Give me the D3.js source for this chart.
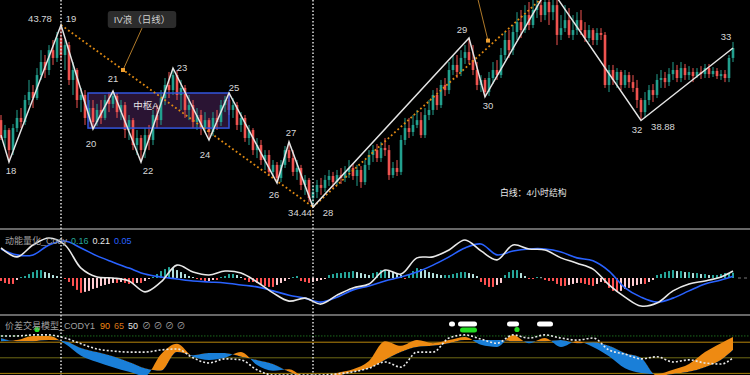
<!DOCTYPE html>
<html>
<head>
<meta charset="utf-8">
<script src="https://cdn.jsdelivr.net/npm/d3@7"></script>
<style>
  body { margin: 0; background: #000; }
  svg { display: block; font-family: "Liberation Sans", "Noto Sans CJK SC", sans-serif; }
</style>
</head>
<body>
<svg id="chart" width="750" height="375"></svg>
<script>
// candles: [open, high, low, close]
const ohlc = [
[38.90,39.16,37.88,37.98],[37.98,38.65,37.47,38.39],[38.39,38.49,36.75,37.36],[37.36,38.70,37.11,38.49],
[38.49,39.42,38.29,39.01],[39.01,39.52,38.49,38.80],[38.80,40.19,38.65,39.93],[39.93,40.96,39.67,40.34],
[40.34,40.70,39.52,40.03],[40.03,41.57,39.93,41.21],[41.21,42.49,40.96,41.88],[41.88,42.24,41.06,41.47],
[41.47,42.75,41.21,42.49],[42.49,43.01,41.73,42.09],[42.09,43.42,41.88,43.11],[43.11,43.78,41.98,42.24],
[42.24,43.01,41.47,42.75],[42.75,42.91,40.70,40.96],[40.96,41.88,40.19,41.47],[41.47,41.57,39.52,39.93],
[39.93,40.55,39.31,40.19],[40.19,40.44,38.65,39.01],[39.01,39.93,38.80,39.52],[39.52,39.93,38.44,38.80],
[38.80,39.73,38.60,39.42],[39.42,39.93,38.70,39.01],[39.01,40.19,38.90,39.93],[39.93,40.34,39.31,39.73],
[39.73,40.39,39.52,40.14],[40.14,40.29,39.01,39.31],[39.31,39.93,38.90,39.67],[39.67,39.83,37.98,38.39],
[38.39,39.16,37.88,38.90],[38.90,39.01,37.36,37.62],[37.62,38.39,37.11,37.98],[37.98,38.13,36.75,37.36],
[37.36,38.49,36.95,38.13],[38.13,38.65,37.36,37.88],[37.88,39.42,37.62,39.16],[39.16,39.67,38.49,38.90],
[38.90,40.44,38.65,40.03],[40.03,41.06,39.67,40.70],[40.70,41.37,40.03,40.44],[40.44,41.57,40.19,41.21],
[41.21,41.47,39.93,40.19],[40.19,40.96,39.42,40.55],[40.55,40.70,39.01,39.42],[39.42,40.19,38.90,39.67],
[39.67,39.93,38.49,38.80],[38.80,39.52,38.39,39.16],[39.16,39.42,38.13,38.49],[38.49,39.31,38.29,38.90],
[38.90,39.01,37.88,38.29],[38.29,39.31,38.08,39.01],[39.01,39.42,38.39,38.80],[38.80,39.93,38.60,39.67],
[39.67,40.14,39.31,39.93],[39.93,40.29,39.16,39.42],[39.42,40.03,39.01,39.67],[39.67,39.83,38.39,38.65],
[38.65,39.31,38.29,39.01],[39.01,39.16,37.78,37.98],[37.98,38.65,37.62,38.39],[38.39,38.49,37.11,37.36],
[37.36,37.98,36.95,37.62],[37.62,37.88,36.60,36.85],[36.85,37.36,36.34,37.11],[37.11,37.36,36.03,36.24],
[36.24,36.85,35.93,36.60],[36.60,36.75,35.67,35.93],[35.93,36.85,35.72,36.60],[36.60,37.57,36.44,37.36],
[37.36,37.78,36.75,36.95],[36.95,37.36,36.03,36.24],[36.24,36.85,35.83,36.44],[36.44,36.60,35.31,35.57],
[35.57,36.08,35.06,35.83],[35.83,35.93,34.70,34.90],[34.90,35.57,34.44,35.21],[35.21,35.83,34.90,35.57],
[35.57,35.93,35.06,35.42],[35.42,36.08,35.21,35.83],[35.83,36.34,35.52,36.03],[36.03,36.24,35.42,35.72],
[35.72,36.34,35.57,36.08],[36.08,36.44,35.62,35.93],[35.93,36.54,35.72,36.24],[36.24,36.85,35.93,36.44],
[36.44,36.65,35.83,36.03],[36.03,36.60,35.52,36.34],[36.34,36.54,35.42,35.72],[35.72,36.85,35.57,36.60],
[36.60,37.36,36.34,37.11],[37.11,37.62,36.75,37.36],[37.36,37.67,36.75,36.95],[36.95,37.78,36.75,37.47],
[37.47,37.98,37.06,37.36],[37.36,37.62,35.83,36.08],[36.08,36.75,35.93,36.44],[36.44,36.85,36.03,36.24],
[36.24,38.13,36.08,37.88],[37.88,39.01,37.62,38.49],[38.49,39.01,37.98,38.29],[38.29,39.16,38.08,38.65],
[38.65,39.42,38.49,38.90],[38.90,39.31,37.98,38.13],[38.13,39.52,37.98,39.16],[39.16,39.93,38.90,39.42],
[39.42,40.44,39.16,40.19],[40.19,40.55,39.42,39.67],[39.67,40.96,39.52,40.70],[40.70,41.06,40.14,40.44],
[40.44,41.88,40.24,41.47],[41.47,42.24,41.21,41.73],[41.73,42.24,41.06,41.37],[41.37,42.49,41.16,42.09],
[42.09,42.75,41.78,42.39],[42.39,43.11,41.78,41.98],[41.98,42.75,41.21,41.47],[41.47,41.88,40.44,40.70],
[40.70,41.21,40.34,40.96],[40.96,41.06,40.09,40.34],[40.34,41.37,40.14,41.06],[41.06,41.88,40.75,41.47],
[41.47,41.98,40.96,41.21],[41.21,42.60,41.06,42.24],[42.24,43.42,41.98,43.01],[43.01,43.52,42.09,42.49],
[42.49,43.78,42.24,43.42],[43.42,44.44,43.01,43.93],[43.93,44.55,43.11,43.52],[43.52,44.80,43.37,44.29],
[44.29,44.96,43.52,43.78],[43.78,45.16,43.62,44.55],[44.55,45.32,44.14,44.80],[44.80,45.47,43.93,44.29],
[44.29,45.57,44.03,44.96],[44.96,45.78,43.78,44.44],[44.44,45.32,44.03,44.80],[44.80,45.06,42.75,43.27],
[43.27,44.29,43.01,43.62],[43.62,44.80,43.42,44.03],[44.03,44.65,43.11,43.27],[43.27,44.29,43.01,43.52],
[43.52,44.44,43.27,44.03],[44.03,44.55,43.27,43.52],[43.52,43.93,42.91,43.11],[43.11,43.78,42.91,43.52],
[43.52,43.62,42.75,43.01],[43.01,43.62,42.75,43.37],[43.37,43.62,43.01,43.27],[43.27,43.42,40.55,40.70],
[40.70,41.73,40.34,41.47],[41.47,41.73,40.70,40.96],[40.96,41.57,40.55,41.37],[41.37,41.47,40.44,40.70],
[40.70,41.47,40.55,41.21],[41.21,41.37,40.55,40.85],[40.85,41.21,40.34,40.55],[40.55,40.96,39.52,39.93],
[39.93,40.03,38.90,39.31],[39.31,40.34,39.01,39.93],[39.93,40.70,39.67,40.44],[40.44,40.75,39.83,40.19],
[40.19,41.26,40.03,40.96],[40.96,41.47,40.55,41.06],[41.06,41.37,40.55,40.85],[40.85,41.57,40.65,41.26],
[41.26,41.88,40.96,41.47],[41.47,41.73,40.85,41.06],[41.06,41.88,40.85,41.57],[41.57,41.78,40.96,41.21],
[41.21,41.67,40.96,41.37],[41.37,41.57,40.85,41.16],[41.16,41.57,41.06,41.37],[41.37,41.67,41.01,41.26],
[41.26,41.78,41.06,41.57],[41.57,41.78,41.06,41.26],[41.26,41.62,41.11,41.42],[41.42,41.57,41.01,41.16],
[41.16,41.47,40.96,41.26],[41.26,41.47,40.85,41.06],[41.06,42.24,40.85,42.09],[42.09,42.91,41.88,42.60]
];

// 4h structure (white zigzag)
const pivotIdx   = [0, 2, 15, 23, 28, 35, 43, 52, 57, 69, 72, 78, 117, 121, 137, 160, 183];
const pivotPrice = [38.13, 36.75, 43.78, 38.44, 40.39, 36.75, 41.57, 37.88, 40.29, 35.67, 37.78, 34.44, 43.11, 40.09, 45.78, 38.88, 42.60];
const pivotName  = ["", "18", "19", "20", "21", "22", "23", "24", "25", "26", "27", "28", "29", "30", "31", "32", "33"];
const priceTagNames = ["19", "28", "32"];

// daily wave lines (orange dotted): [i0, p0, i1, p1]
const waveLines = [[15, 43.78, 78, 34.44], [78, 34.44, 136, 45.30]];
const waveMarkIdx   = [30.5, 121.75];
const waveMarkPrice = [41.47, 42.98];
const waveTextIdx   = [35.25, 119.0];
const waveTextPrice = [43.62, 45.30];
const waveText = ["IV浪（日线）", ""];

// 中枢 box
const hubIdx = [21.75, 57];
const hubPrice = [38.49, 40.29];
const hubName = "中枢A";
const hubLabelAt = [36.25, 39.67];
const noteText = "白线：4小时结构";
const noteAt = [124.75, 35.16];

const crossIdx = [15, 78];

// momentum (MACD) panel
const histVals = [
-0.09,-0.15,-0.18,-0.18,-0.06,0.03,0.06,0.12,0.18,0.24,
0.24,0.18,0.15,0.09,0.06,0.03,-0.03,-0.12,-0.24,-0.36,
-0.45,-0.42,-0.39,-0.33,-0.30,-0.24,-0.21,-0.18,-0.15,-0.15,
-0.12,-0.15,-0.18,-0.18,-0.15,-0.15,-0.09,-0.03,0.03,0.12,
0.21,0.27,0.33,0.30,0.24,0.18,0.12,0.06,0.03,-0.03,
-0.06,-0.12,-0.09,-0.06,-0.06,0.03,0.06,0.12,0.12,0.09,
0.03,-0.06,-0.12,-0.12,-0.15,-0.21,-0.24,-0.27,-0.27,-0.21,
-0.15,-0.09,-0.03,0.03,0.06,-0.09,-0.12,-0.15,-0.12,-0.09,
-0.06,-0.03,0.09,0.12,0.15,0.15,0.18,0.18,0.21,0.18,
0.15,0.12,0.09,0.15,0.18,0.24,0.24,0.21,0.18,0.12,
0.09,-0.03,0.12,0.21,0.30,0.27,0.24,0.18,0.15,0.12,
0.09,0.09,0.09,0.12,0.15,0.18,0.18,0.15,0.12,0.06,
-0.12,-0.21,-0.27,-0.27,-0.21,-0.15,0.09,0.18,0.24,0.24,
0.15,0.06,-0.03,-0.03,0.03,0.02,-0.06,-0.09,-0.09,-0.18,
-0.24,-0.24,-0.21,-0.18,-0.15,-0.15,-0.18,-0.21,-0.24,-0.18,
-0.12,-0.15,-0.30,-0.39,-0.42,-0.39,-0.33,-0.30,-0.24,-0.21,
-0.18,-0.18,-0.12,-0.06,0.09,0.12,0.18,0.21,0.24,0.21,
0.21,0.18,0.18,0.15,0.15,0.12,0.12,0.09,0.09,0.09,
0.12,0.15,0.15,0.16
];
const sampleIdx = [0,4,8,12,16,20,24,28,32,36,40,44,48,52,56,60,64,68,72,76,80,84,88,92,96,100,104,108,112,116,120,124,128,132,136,140,144,148,152,156,160,164,168,172,176,180,183];
const difVals = [0.91,0.64,1.00,1.21,1.00,0.30,0.03,0,-0.09,-0.42,-0.12,0.39,0.18,0.09,0.21,0.15,-0.12,-0.45,-0.70,-0.61,-0.79,-0.52,-0.30,-0.18,0.24,0.12,0.61,0.64,0.85,1.15,0.82,0.55,1.00,0.88,0.85,0.61,0.45,0.27,-0.21,-0.58,-0.85,-0.76,-0.39,-0.18,-0.09,0.03,0.21];
const deaVals = [0.88,0.70,0.70,1.00,1.12,0.91,0.67,0.48,0.30,0.12,0.03,-0.03,-0.09,-0.12,-0.15,-0.21,-0.27,-0.39,-0.52,-0.61,-0.73,-0.58,-0.36,-0.24,-0.09,0.03,0.18,0.39,0.64,0.91,1.03,0.70,0.82,0.88,0.88,0.79,0.61,0.52,0.21,-0.30,-0.58,-0.73,-0.61,-0.39,-0.18,-0.06,0.05];

// spread model panel
const fastVals = [82,84,92,92,77,54,42,32,23,15,57,77,52,46,50,61,36,25,28,13,11,21,28,44,82,73,84,78,84,90,75,71,94,78,88,71,82,71,53,30,21,19,27,38,61,78,90];
const slowVals = [88,82,82,84,82,69,61,53,42,30,25,61,55,59,59,52,46,38,23,13,11,15,23,30,46,61,71,73,78,84,84,84,82,82,82,84,78,80,73,59,50,15,19,23,32,46,65];
const spreadVals = [92,92,94,94,88,77,67,63,61,61,65,67,50,40,48,46,27,17,17,17,17,19,23,30,42,32,61,61,88,94,86,78,94,88,94,88,84,88,65,57,48,52,42,46,40,38,50];
const levels = [92, 80, 50, 20];
const whiteSignals = [[112, 113.5], [114.25, 119], [126.5, 129.5], [134, 138]];
const greenSignals = [[114.75, 119]];
const greenDots = [9, 129];

const UP = "#22a08e", DOWN = "#ef5350";

const svg = d3.select("#chart");
svg.append("rect").attr("width", 750).attr("height", 375).attr("fill", "#000");

const x = d3.scaleLinear().domain([0, 183]).range([1, 733]);
const yP = d3.scaleLinear().domain([34.44, 43.78]).range([207, 25]);
const yM = d3.scaleLinear().domain([0, 1]).range([278, 245]);
const yS = d3.scaleLinear().domain([65, 90]).range([350, 337]);

const defs = svg.append("defs");
defs.append("clipPath").attr("id", "clipMain").append("rect").attr("x", 0).attr("y", 0).attr("width", 750).attr("height", 228);
defs.append("clipPath").attr("id", "clipMacd").append("rect").attr("x", 0).attr("y", 230).attr("width", 750).attr("height", 84);
defs.append("clipPath").attr("id", "clipSub").append("rect").attr("x", 0).attr("y", 316).attr("width", 750).attr("height", 59);

/* ---------- main panel ---------- */
const main = svg.append("g").attr("clip-path", "url(#clipMain)");

const hubX0 = x(hubIdx[0]), hubX1 = x(hubIdx[1]);
const hubY0 = yP(hubPrice[1]), hubY1 = yP(hubPrice[0]);
main.append("rect").attr("x", hubX0).attr("y", hubY0)
  .attr("width", hubX1 - hubX0).attr("height", hubY1 - hubY0)
  .attr("fill", "#2a1433");

main.selectAll("line.wick").data(ohlc).join("line").attr("class", "wick")
  .attr("x1", (d, i) => x(i)).attr("x2", (d, i) => x(i))
  .attr("y1", d => yP(d[1])).attr("y2", d => yP(d[2]))
  .attr("stroke", d => d[3] >= d[0] ? UP : DOWN).attr("stroke-width", 1);

main.selectAll("rect.body").data(ohlc).join("rect").attr("class", "body")
  .attr("x", (d, i) => x(i) - 1.3).attr("width", 2.6)
  .attr("y", d => yP(Math.max(d[0], d[3])))
  .attr("height", d => Math.max(1, Math.abs(yP(d[0]) - yP(d[3]))))
  .attr("fill", d => d[3] >= d[0] ? UP : DOWN);

main.append("rect").attr("x", hubX0).attr("y", hubY0)
  .attr("width", hubX1 - hubX0).attr("height", hubY1 - hubY0)
  .attr("fill", "none").attr("stroke", "#3355dd").attr("stroke-width", 1.5);

// orange dotted wave lines
main.selectAll("line.wave").data(waveLines).join("line").attr("class", "wave")
  .attr("x1", d => x(d[0])).attr("y1", d => yP(d[1]))
  .attr("x2", d => x(d[2])).attr("y2", d => yP(d[3]))
  .attr("stroke", "#e08a12").attr("stroke-width", 1.8).attr("stroke-dasharray", "1.8,2.6");

// zigzag
const zz = pivotIdx.map((d, k) => [d, pivotPrice[k]]);
main.append("path").datum(zz)
  .attr("d", d3.line().x(d => x(d[0])).y(d => yP(d[1])))
  .attr("fill", "none").attr("stroke", "#e4e4e4").attr("stroke-width", 1.5);

// wave markers with leader lines
waveMarkIdx.forEach((mi, k) => {
  main.append("line")
    .attr("x1", x(mi)).attr("y1", yP(waveMarkPrice[k]))
    .attr("x2", x(waveTextIdx[k])).attr("y2", yP(waveTextPrice[k]))
    .attr("stroke", "#b07a2a").attr("stroke-width", 1);
  main.append("rect")
    .attr("x", x(mi) - 2).attr("y", yP(waveMarkPrice[k]) - 2)
    .attr("width", 4).attr("height", 4).attr("fill", "#f0a030");
  if (waveText[k]) {
    const tg = main.append("g");
    const t = tg.append("text")
      .attr("x", x(waveTextIdx[k])).attr("y", yP(waveTextPrice[k]) - 8.5)
      .attr("text-anchor", "middle").attr("dominant-baseline", "central")
      .attr("font-size", 9.5).attr("fill", "#d0d0d0").text(waveText[k]);
    const bb = t.node().getBBox();
    tg.insert("rect", "text")
      .attr("x", bb.x - 6).attr("y", bb.y - 3).attr("width", bb.width + 12).attr("height", bb.height + 6)
      .attr("rx", 3).attr("fill", "#2c2c2c");
  }
});

// pivot labels
const tagOffset = {"18":[2,9],"19":[10,-7],"20":[-2,14],"21":[0,-13],"22":[7,9],"23":[9,-1],"24":[-4,15],
  "25":[5,-6],"26":[-3,11],"27":[2,-9],"28":[15,5],"29":[-7,-9],"30":[3,9],"32":[-4,9],"33":[-7,-11]};
const priceOffset = {"19":[-21,-7],"28":[-13,5],"32":[22,6]};
pivotName.forEach((n, k) => {
  if (!tagOffset[n]) return;
  main.append("text")
    .attr("x", x(pivotIdx[k]) + tagOffset[n][0]).attr("y", yP(pivotPrice[k]) + tagOffset[n][1])
    .attr("text-anchor", "middle").attr("dominant-baseline", "central")
    .attr("font-size", 9.5).attr("fill", "#d8d8d8").text(n);
  if (priceTagNames.includes(n)) {
    main.append("text")
      .attr("x", x(pivotIdx[k]) + priceOffset[n][0]).attr("y", yP(pivotPrice[k]) + priceOffset[n][1])
      .attr("text-anchor", "middle").attr("dominant-baseline", "central")
      .attr("font-size", 9.5).attr("fill", "#d8d8d8").text(d3.format(".2f")(pivotPrice[k]));
  }
});

main.append("text").attr("x", x(hubLabelAt[0])).attr("y", yP(hubLabelAt[1]))
  .attr("text-anchor", "middle").attr("dominant-baseline", "central")
  .attr("font-size", 9.5).attr("fill", "#e6e6e6").text(hubName);
main.append("text").attr("x", x(noteAt[0])).attr("y", yP(noteAt[1]))
  .attr("dominant-baseline", "central")
  .attr("font-size", 8.8).attr("fill", "#e6e6e6").text(noteText);

/* ---------- momentum panel ---------- */
const macd = svg.append("g").attr("clip-path", "url(#clipMacd)");
macd.selectAll("rect.hist").data(histVals).join("rect").attr("class", "hist")
  .attr("x", (d, i) => x(i) - 1).attr("width", 2)
  .attr("y", d => Math.min(yM(d), yM(0)))
  .attr("height", d => Math.max(0.8, Math.abs(yM(d) - yM(0))))
  .attr("fill", (d, i) => {
    const prev = i > 0 ? histVals[i - 1] : d;
    if (d >= 0) return d >= prev ? "#26a69a" : "#b2dfdb";
    return d <= prev ? "#ff5252" : "#ffcdd2";
  });
macd.append("line").attr("x1", 738).attr("x2", 750).attr("y1", yM(0)).attr("y2", yM(0))
  .attr("stroke", "#777").attr("stroke-dasharray", "3,3");

const mLine = vals => d3.line().curve(d3.curveCatmullRom.alpha(0.5))
  .x((d, k) => x(sampleIdx[k])).y(d => yM(d))(vals);
macd.append("path").attr("d", mLine(deaVals)).attr("fill", "none").attr("stroke", "#2962ff").attr("stroke-width", 1.6);
macd.append("path").attr("d", mLine(difVals)).attr("fill", "none").attr("stroke", "#e8e8e8").attr("stroke-width", 1.6);

const leg1 = svg.append("text").attr("x", 5).attr("y", 241).attr("dominant-baseline", "central").attr("font-size", 9);
leg1.append("tspan").attr("fill", "#a0a0a0").text("动能量化_Cody");
leg1.append("tspan").attr("fill", "#26a69a").attr("dx", 4).text(d3.format(".2f")(histVals[histVals.length - 1]));
leg1.append("tspan").attr("fill", "#e8e8e8").attr("dx", 4).text(d3.format(".2f")(difVals[difVals.length - 1]));
leg1.append("tspan").attr("fill", "#2962ff").attr("dx", 4).text(d3.format(".2f")(deaVals[deaVals.length - 1]));

/* ---------- spread model panel ---------- */
const sub = svg.append("g").attr("clip-path", "url(#clipSub)");
const levelColor = ["#1c6b1c", "#b8860b", "#6e6a14", "#a8820c"];
levels.forEach((lv, k) => {
  sub.append("line").attr("x1", 0).attr("x2", 750).attr("y1", yS(lv)).attr("y2", yS(lv))
    .attr("stroke", levelColor[k]).attr("stroke-width", 1)
    .attr("stroke-dasharray", k === 0 ? "1.5,1.5" : null);
});

const cv = d3.curveMonotoneX;
const sx = (d, k) => x(sampleIdx[k]);
const band = d3.area().curve(cv).x(sx).y0((d, k) => yS(slowVals[k])).y1((d, k) => yS(fastVals[k]));
const aboveSlow = d3.area().curve(cv).x(sx).y0(300).y1((d, k) => yS(slowVals[k]));
const belowSlow = d3.area().curve(cv).x(sx).y0((d, k) => yS(slowVals[k])).y1(400);
defs.append("clipPath").attr("id", "clipUp").append("path").attr("d", aboveSlow(sampleIdx));
defs.append("clipPath").attr("id", "clipDn").append("path").attr("d", belowSlow(sampleIdx));
sub.append("path").attr("d", band(sampleIdx)).attr("fill", "#ee8a12").attr("clip-path", "url(#clipUp)");
sub.append("path").attr("d", band(sampleIdx)).attr("fill", "#1a7fd8").attr("clip-path", "url(#clipDn)");
sub.append("path").attr("d", d3.line().curve(cv).x(sx).y(d => yS(d))(spreadVals))
  .attr("fill", "none").attr("stroke", "#e8e8e8").attr("stroke-width", 1.6).attr("stroke-dasharray", "2,2");

sub.selectAll("rect.wsig").data(whiteSignals).join("rect").attr("class", "wsig")
  .attr("x", d => x(d[0])).attr("width", d => x(d[1]) - x(d[0]))
  .attr("y", 321.5).attr("height", 5).attr("rx", 2.5).attr("fill", "#ffffff");
sub.selectAll("rect.gsig").data(greenSignals).join("rect").attr("class", "gsig")
  .attr("x", d => x(d[0])).attr("width", d => x(d[1]) - x(d[0]))
  .attr("y", 327.5).attr("height", 5).attr("rx", 2.5).attr("fill", "#22dd22");
sub.selectAll("circle.gdot").data(greenDots).join("circle").attr("class", "gdot")
  .attr("cx", d => x(d)).attr("cy", 329.5).attr("r", 2.6).attr("fill", "#22dd22");

const leg2 = svg.append("text").attr("x", 5).attr("y", 326).attr("dominant-baseline", "central").attr("font-size", 9);
leg2.append("tspan").attr("fill", "#a0a0a0").text("价差交易模型_CODY1");
leg2.append("tspan").attr("fill", "#f08a10").attr("dx", 5).text(fastVals[fastVals.length - 1]);
leg2.append("tspan").attr("fill", "#d8761a").attr("dx", 4).text(slowVals[slowVals.length - 1]);
leg2.append("tspan").attr("fill", "#e8e8e8").attr("dx", 4).text(spreadVals[spreadVals.length - 1]);
leg2.append("tspan").attr("fill", "#a0a0a0").attr("dx", 4).text("⊘  ⊘  ⊘  ⊘");

/* ---------- separators & crosshair ---------- */
[229, 315].forEach(yy => {
  svg.append("line").attr("x1", 0).attr("x2", 750).attr("y1", yy).attr("y2", yy)
    .attr("stroke", "#8a8a8a").attr("stroke-width", 1.5);
});
crossIdx.forEach(ci => {
  svg.append("line").attr("x1", x(ci)).attr("x2", x(ci)).attr("y1", 0).attr("y2", 375)
    .attr("stroke", "#e0e0e0").attr("stroke-width", 1.5).attr("stroke-dasharray", "1.5,2");
});
</script>
</body>
</html>
